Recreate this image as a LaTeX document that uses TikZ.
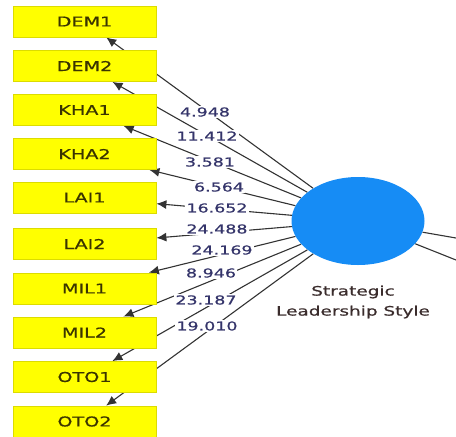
\documentclass[tikz,border=0pt]{standalone}
\usepackage{fontspec}
\usetikzlibrary{arrows.meta,shapes.geometric,backgrounds}
\newfontfamily\plsfont[FakeStretch=1.42,FakeBold=0.7]{DejaVu Sans}
\definecolor{boxyellow}{HTML}{FFFF00}
\definecolor{boxedge}{HTML}{DCDC00}
\definecolor{ellblue}{HTML}{168CF5}
\definecolor{labcol}{HTML}{34346A}
\definecolor{boxtext}{HTML}{3A3400}
\definecolor{nametext}{HTML}{3A2C2C}
\definecolor{linecol}{HTML}{333333}
\tikzset{
  indbox/.style={draw=boxedge, line width=0.8pt, fill=boxyellow, minimum width=143pt, minimum height=31pt, inner sep=0pt, text=boxtext, font=\plsfont\fontsize{13.5}{14}\selectfont},
  latent/.style={ellipse, draw=none, fill=ellblue, minimum width=133pt, minimum height=88pt, inner sep=0pt},
  conn/.style={draw=linecol, line width=1.1pt, -{Latex[length=10pt,width=9pt]}},
  plain/.style={draw=linecol, line width=1.1pt},
  wlabel/.style={fill=white, inner sep=1pt, text=labcol, font=\plsfont\fontsize{12.3}{13}\selectfont},
  namelabel/.style={align=center, text=nametext, font=\plsfont\fontsize{13}{20}\selectfont}
}
\begin{document}
\begin{tikzpicture}[x=1pt,y=-1pt]
\useasboundingbox (0,0) rectangle (456,437);
% latent variable
\node[latent] (slsn) at (358,221) {};
\node[namelabel] (slsname) at (353,302) {Strategic\\Leadership Style};
% indicator boxes
\node[indbox] (DEM1) at (84.5,21.5) {DEM1};
\node[indbox] (DEM2) at (84.5,66) {DEM2};
\node[indbox] (KHA1) at (84.5,110) {KHA1};
\node[indbox] (KHA2) at (84.5,154) {KHA2};
\node[indbox] (LAI1) at (84.5,197.5) {LAI1};
\node[indbox] (LAI2) at (84.5,244) {LAI2};
\node[indbox] (MIL1) at (84.5,288.5) {MIL1};
\node[indbox] (MIL2) at (84.5,332.5) {MIL2};
\node[indbox] (OTO1) at (84.5,377) {OTO1};
\node[indbox] (OTO2) at (84.5,421.5) {OTO2};
% right side continuation
\coordinate (r1) at (456,238);
\coordinate (r2) at (456,260);
\begin{scope}[on background layer]
\draw[plain] (slsn) -- (r1);
\draw[plain] (slsn) -- (r2);
\foreach \b in {DEM1,DEM2,KHA1,KHA2,LAI1,LAI2,MIL1,MIL2,OTO1,OTO2}{
  \draw[conn] (slsn) -- (\b);
}
\end{scope}
% weights
\node[wlabel] (w1) at (205,112) {4.948};
\node[wlabel] (w2) at (207,136) {11.412};
\node[wlabel] (w3) at (210,162) {3.581};
\node[wlabel] (w4) at (219,187) {6.564};
\node[wlabel] (w5) at (217,208) {16.652};
\node[wlabel] (w6) at (217,229) {24.488};
\node[wlabel] (w7) at (222,250) {24.169};
\node[wlabel] (w8) at (211,273) {8.946};
\node[wlabel] (w9) at (206,300) {23.187};
\node[wlabel] (w10) at (207,326) {19.010};
\end{tikzpicture}
\end{document}
